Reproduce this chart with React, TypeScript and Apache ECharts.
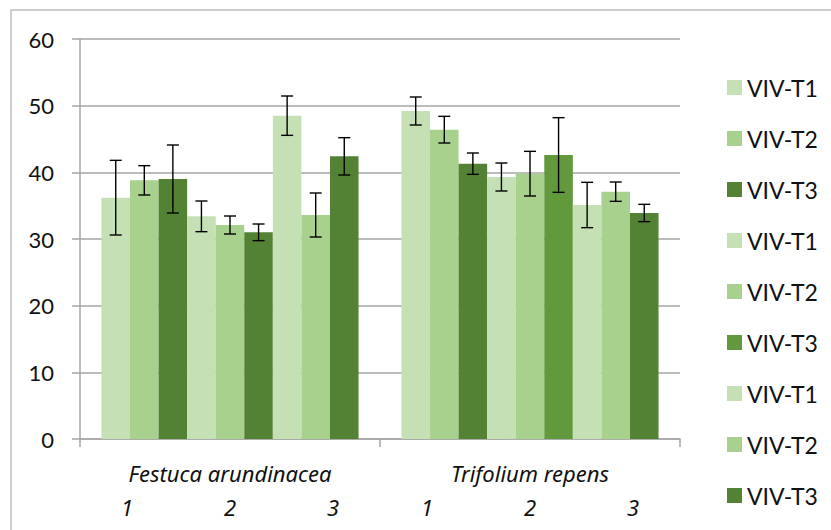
import React, { useEffect, useRef } from "react";
import * as echarts from "echarts";

// Species on the category axis and the three sampling points under each
const categories = ["Festuca arundinacea", "Trifolium repens"];
const subLabels = ["1", "2", "3"];

// Nine series: VIV-T1..T3 for sampling points 1, 2 and 3
const seriesNames = [
  "VIV-T1", "VIV-T2", "VIV-T3",
  "VIV-T1", "VIV-T2", "VIV-T3",
  "VIV-T1", "VIV-T2", "VIV-T3",
];

// Means per series (one value per species)
const festucaMeans = [36.2, 38.8, 39.0, 33.4, 32.1, 31.0, 48.5, 33.6, 42.4];
const trifoliumMeans = [49.2, 46.4, 41.3, 39.3, 39.8, 42.6, 35.1, 37.1, 33.9];

// Error bar half-widths
const festucaErr = [5.6, 2.2, 5.1, 2.3, 1.35, 1.25, 2.95, 3.3, 2.8];
const trifoliumErr = [2.1, 2.0, 1.6, 2.1, 3.35, 5.6, 3.4, 1.45, 1.3];

const seriesColors = [
  "#c5e0b4", "#a9d18e", "#548235",
  "#c5e0b4", "#a9d18e", "#63993d",
  "#c5e0b4", "#a9d18e", "#548235",
];
// Festuca bar of the sixth series keeps the darker green
const festucaOverride: Record<number, string> = { 5: "#548235" };

const yTicks = { min: 0, max: 60, interval: 10 };

const FONT = "Lato, 'Liberation Sans', sans-serif";
const ITALIC_FONT = "'Noto Sans', 'Liberation Sans', sans-serif";
const BAR_GAP = 0.143;

export default function App() {
  const ref = useRef<HTMLDivElement>(null);

  useEffect(() => {
    if (!ref.current) return;
    const chart = echarts.init(ref.current, undefined, { renderer: "svg" });
    const N = seriesNames.length;
    const ids = seriesNames.map((n, i) => `${n} (${i + 1})`);

    const barSeries = ids.map((id, i) => ({
      name: id,
      type: "bar",
      barGap: "0%",
      barCategoryGap: `${BAR_GAP * 100}%`,
      itemStyle: { color: seriesColors[i] },
      data: [
        festucaOverride[i]
          ? { value: festucaMeans[i], itemStyle: { color: festucaOverride[i] } }
          : festucaMeans[i],
        trifoliumMeans[i],
      ],
    }));

    const errData: number[][] = [];
    for (let i = 0; i < N; i++) {
      errData.push([0, festucaMeans[i] - festucaErr[i], festucaMeans[i] + festucaErr[i], i]);
      errData.push([1, trifoliumMeans[i] - trifoliumErr[i], trifoliumMeans[i] + trifoliumErr[i], i]);
    }

    const errorSeries = {
      type: "custom",
      name: "err",
      z: 10,
      encode: { x: 0, y: [1, 2] },
      data: errData,
      renderItem: (params: any, api: any) => {
        const cat = api.value(0);
        const lo = api.value(1);
        const hi = api.value(2);
        const s = api.value(3);
        const center = api.coord([cat, 0]);
        const band = api.size([1, 0])[0];
        const bw = (band * (1 - BAR_GAP)) / N;
        const x = center[0] + (s - (N - 1) / 2) * bw;
        const yTop = api.coord([cat, hi])[1];
        const yBot = api.coord([cat, lo])[1];
        const cap = 6;
        const style = { stroke: "#000", lineWidth: 1.4 };
        return {
          type: "group",
          children: [
            { type: "line", shape: { x1: x, y1: yTop, x2: x, y2: yBot }, style },
            { type: "line", shape: { x1: x - cap, y1: yTop, x2: x + cap, y2: yTop }, style },
            { type: "line", shape: { x1: x - cap, y1: yBot, x2: x + cap, y2: yBot }, style },
          ],
        };
      },
    };

    chart.setOption({
      animation: false,
      textStyle: { fontFamily: FONT },
      graphic: [
        {
          type: "rect",
          shape: { x: 11, y: 10, width: 900, height: 600 },
          style: { fill: "none", stroke: "#bfbfbf", lineWidth: 1.5 },
          silent: true,
        },
      ],
      grid: { left: 80, right: 151, top: 39, bottom: 91 },
      legend: {
        orient: "vertical",
        left: 722,
        top: 71,
        itemWidth: 15,
        itemHeight: 15,
        itemGap: 28,
        icon: "rect",
        data: ids,
        formatter: (name: string) => name.replace(/ \(\d+\)$/, ""),
        textStyle: { fontSize: 23, lineHeight: 20, color: "#111", fontFamily: FONT },
      },
      xAxis: {
        type: "category",
        data: categories,
        axisLine: { lineStyle: { color: "#a6a6a6", width: 1.5 } },
        axisTick: { show: true, length: 8, lineStyle: { color: "#a6a6a6", width: 1.5 } },
        axisLabel: {
          margin: 17,
          interval: 0,
          formatter: (v: string) =>
            `{a|${v}}\n` + subLabels.map((s) => `{n|${s}}`).join(""),
          rich: {
            a: { fontSize: 22, fontStyle: "italic", lineHeight: 34, color: "#111", fontFamily: ITALIC_FONT },
            n: { fontSize: 22, fontStyle: "italic", lineHeight: 34, width: 103, align: "center", color: "#111", fontFamily: ITALIC_FONT },
          },
        },
      },
      yAxis: {
        type: "value",
        min: yTicks.min,
        max: yTicks.max,
        interval: yTicks.interval,
        axisLine: { show: true, lineStyle: { color: "#a6a6a6", width: 1.5 } },
        axisTick: { show: true, length: 8, lineStyle: { color: "#a6a6a6", width: 1.5 } },
        splitLine: { lineStyle: { color: "#a6a6a6", width: 1.5 } },
        axisLabel: { margin: 26, fontSize: 22, color: "#111", fontFamily: FONT },
      },
      series: [...barSeries, errorSeries],
    });

    return () => chart.dispose();
  }, []);

  return (
    <div
      ref={ref}
      style={{ position: "absolute", left: 0, top: 0, width: 831, height: 530, background: "#fff" }}
    />
  );
}
